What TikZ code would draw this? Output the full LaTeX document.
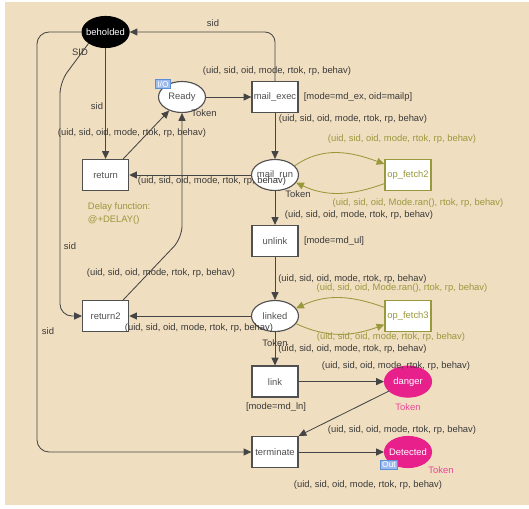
\documentclass[tikz,border=0pt]{standalone}
\usepackage{fontspec}
\setmainfont{Liberation Sans}
\usepackage{tikz}
\usetikzlibrary{shapes.geometric, arrows.meta}

\definecolor{netbg}{HTML}{F0DEC0}
\definecolor{arcgray}{HTML}{454545}
\definecolor{boxgray}{HTML}{505050}
\definecolor{labelgray}{HTML}{3A3A3A}
\definecolor{fetcholive}{HTML}{9A983C}
\definecolor{alarmpink}{HTML}{E8208C}
\definecolor{tokenpink}{HTML}{E8469A}
\definecolor{tagblue}{HTML}{5B8FD8}
\definecolor{tagfill}{HTML}{9DBBEE}

\begin{document}
\begin{tikzpicture}[
        font=\fontsize{6.7}{9}\selectfont, text=labelgray,
        >={Triangle[length=5.5pt, width=5pt]},
        arc/.style={draw=arcgray, line width=0.6pt},
        fetch arc/.style={draw=fetcholive, line width=0.6pt},
        trans/.style={rectangle, draw=boxgray, line width=0.9pt, fill=white, text=boxgray,
            minimum width=1.15cm, minimum height=0.775cm, inner sep=0pt},
        place/.style={ellipse, draw=boxgray, line width=0.8pt, fill=white, text=boxgray,
            minimum width=1.175cm, minimum height=0.775cm, inner xsep=-2pt, inner ysep=0pt},
        fetch/.style={trans, draw=fetcholive, text=fetcholive},
        alarm place/.style={place, draw=alarmpink, fill=alarmpink, text=white},
        tag/.style={draw=tagblue, fill=tagfill, text=white, line width=0.6pt,
            font=\fontsize{6}{6}\selectfont, inner xsep=1.2pt, inner ysep=0.8pt}
    ]
        \useasboundingbox (0, 0) rectangle (13.225, -12.7);
        \fill[netbg] (0.125, -0.05) rectangle (13.225, -12.625);

        \node[place, draw=black, fill=black, text=white] (beholded) at (2.64, -0.8) {beholded};
        \node[place] (Ready) at (4.55, -2.425) {Ready};
        \node[trans] (mail exec) at (6.875, -2.425) {mail\_exec};
        \node[place] (mail run) at (6.875, -4.375) {mail\_run};
        \node[trans] (return) at (2.64, -4.375) {return};
        \node[fetch] (op fetch2) at (10.2, -4.375) {op\_fetch2};
        \node[trans] (unlink) at (6.875, -6.025) {unlink};
        \node[place] (linked) at (6.875, -7.9) {linked};
        \node[trans] (return2) at (2.64, -7.9) {return2};
        \node[fetch] (op fetch3) at (10.2, -7.9) {op\_fetch3};
        \node[trans] (link) at (6.875, -9.54) {link};
        \node[alarm place] (danger) at (10.2, -9.54) {danger};
        \node[trans] (terminate) at (6.875, -11.3) {terminate};
        \node[alarm place] (Detected) at (10.2, -11.3) {Detected};
        \coordinate (far left) at (0.925, -0.8);
        \coordinate (sid bend) at (1.5, -2.05);
        \coordinate (return2 bend) at (4.55, -5.95);

        \draw[arc, ->, rounded corners=0.25cm] (mail exec.north) |- (beholded);
        \draw[arc, ->] (Ready) -- (mail exec);
        \draw[arc, ->] (mail exec) -- (mail run);
        \draw[arc, ->] (mail run) -- (return);
        \draw[arc, ->] (beholded) -- (return);
        \draw[arc, ->] ([xshift=-0.15cm]return.north east) -- (Ready);
        \draw[arc, ->, rounded corners=0.3cm] ([xshift=-0.15cm]return2.north east) -- (return2 bend) -- (Ready);
        \draw[arc, ->] (linked) -- (return2);
        \draw[arc, ->, rounded corners=0.3cm] (beholded.south west) -- (sid bend) |- (return2);
        \draw[arc, ->, rounded corners=0.3cm] (beholded) -- (far left) |- (terminate);
        \draw[arc, ->] (mail run) -- (unlink);
        \draw[arc, ->] (unlink) -- (linked);
        \draw[arc, ->] (linked) -- (link);
        \draw[arc, ->] (link) -- (danger);
        \draw[arc, ->] (danger) -- (terminate.north east);
        \draw[arc, ->] (terminate) -- (Detected);
        \draw[fetch arc, ->] (mail run.25) to[out=35, in=160] (op fetch2.155);
        \draw[fetch arc, ->] (op fetch2.200) to[out=200, in=-25] (mail run.-20);
        \draw[fetch arc, ->] (op fetch3.160) to[out=160, in=25] (linked.20);
        \draw[fetch arc, ->] (linked.-20) to[out=-25, in=200] (op fetch3.200);

        \node[tag] (Ready Tag) at (4.075, -2.1) {I/O};
        \node[tag] (Detected Tag) at (9.725, -11.625) {Out};
        \node (Ready Token) at (5.1, -2.825) {Token};
        \node (mail run Token) at (7.45, -4.85) {Token};
        \node (linked Token) at (6.875, -8.575) {Token};
        \node[text=tokenpink] (danger Token) at (10.2, -10.175) {Token};
        \node[text=tokenpink] (Detected Token) at (11.025, -11.75) {Token};

        \node (sid top) at (5.325, -0.575) {sid};
        \node (SID left) at (2.0, -1.3) {SID};
        \node (sid return) at (2.425, -2.65) {sid};
        \node (sid return2) at (1.75, -6.15) {sid};
        \node (sid terminate) at (1.2, -8.275) {sid};
        \node (Ready exec) at (6.925, -1.775) {(uid, sid, oid, mode, rtok, rp, behav)};
        \node (exec Guard) at (8.95, -2.425) {[mode=md\_ex, oid=mailp]};
        \node (exec run) at (8.825, -2.975) {(uid, sid, oid, mode, rtok, rp, behav)};
        \node (return Ready) at (3.3, -3.325) {(uid, sid, oid, mode, rtok, rp, behav)};
        \node (run return) at (5.3, -4.525) {(uid, sid, oid, mode, rtok, rp, behav)};
        \node[text=fetcholive] (run fetch2) at (10.05, -3.475) {(uid, sid, oid, mode, rtok, rp, behav)};
        \node[text=fetcholive] (fetch2 run) at (10.45, -5.075) {(uid, sid, oid, Mode.ran(), rtok, rp, behav)};
        \node[text=fetcholive, align=left, anchor=west] (Delay) at (2.075, -5.34) {Delay function:\\@+DELAY()};
        \node (run unlink) at (8.975, -5.375) {(uid, sid, oid, mode, rtok, rp, behav)};
        \node (unlink Guard) at (8.35, -6.025) {[mode=md\_ul]};
        \node (return2 Ready) at (4.025, -6.825) {(uid, sid, oid, mode, rtok, rp, behav)};
        \node (unlink linked) at (8.81, -6.975) {(uid, sid, oid, mode, rtok, rp, behav)};
        \node[text=fetcholive] (fetch3 linked) at (10.05, -7.2) {(uid, sid, oid, Mode.ran(), rtok, rp, behav)};
        \node (linked return2) at (4.975, -8.2) {(uid, sid, oid, mode, rtok, rp, behav)};
        \node[text=fetcholive] (linked fetch3) at (9.775, -8.425) {(uid, sid, oid, mode, rtok, rp, behav)};
        \node (linked link) at (8.81, -8.725) {(uid, sid, oid, mode, rtok, rp, behav)};
        \node (link danger) at (9.9, -9.15) {(uid, sid, oid, mode, rtok, rp, behav)};
        \node (link Guard) at (6.9, -10.175) {[mode=md\_ln]};
        \node (danger terminate) at (10.05, -10.75) {(uid, sid, oid, mode, rtok, rp, behav)};
        \node (terminate Detected) at (9.2, -12.125) {(uid, sid, oid, mode, rtok, rp, behav)};
    \end{tikzpicture}
\end{document}
